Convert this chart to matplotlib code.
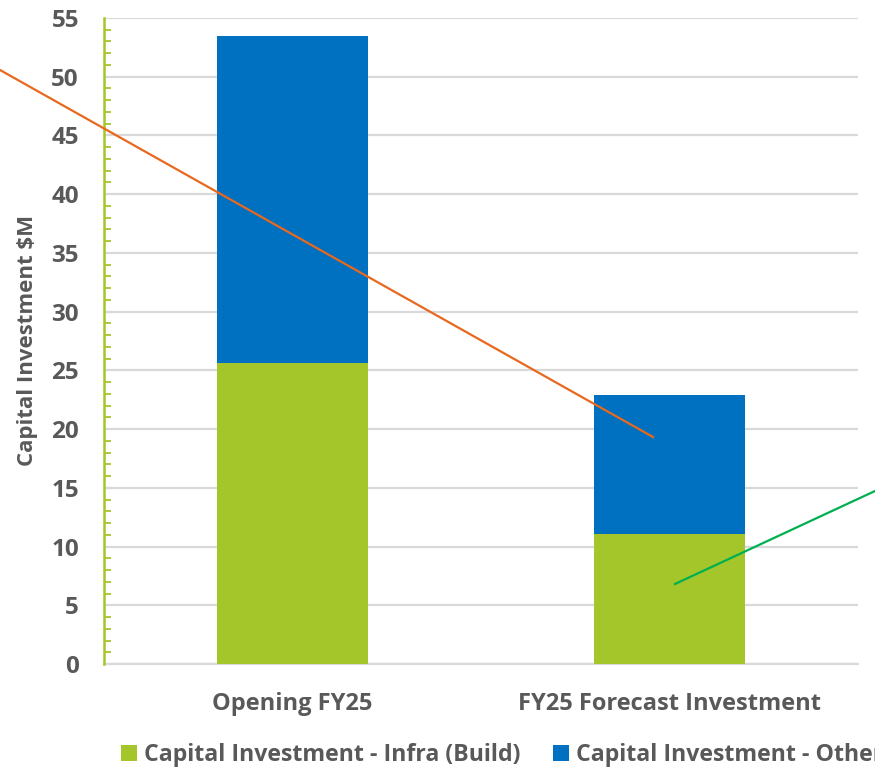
import matplotlib.pyplot as plt
from matplotlib.lines import Line2D
from matplotlib.ticker import MultipleLocator

categories = ["Opening FY25", "FY25 Forecast Investment"]
infra_build = [25.6, 11.1]
other = [27.9, 11.8]
series_names = ["Capital Investment - Infra (Build)", "Capital Investment - Other"]

GREEN = "#A5C62A"
BLUE = "#0070C0"
GREY_TXT = "#595959"
GRID = "#D9D9D9"

plt.rcParams['font.family'] = ['Open Sans', 'DejaVu Sans']
plt.rcParams['font.weight'] = 'bold'

fig = plt.figure(figsize=(8.75, 7.71), dpi=100)
ax = fig.add_axes([104 / 875, 1 - 664 / 771, 754 / 875, 646 / 771])

x = range(len(categories))
ax.bar(x, infra_build, width=0.4, color=GREEN, label=series_names[0], zorder=3)
ax.bar(x, other, width=0.4, bottom=infra_build, color=BLUE, label=series_names[1], zorder=3)

ax.set_xlim(-0.5, 1.5)
ax.set_ylim(0, 55)
ax.yaxis.set_major_locator(MultipleLocator(5))
ax.yaxis.set_minor_locator(MultipleLocator(1))
ax.grid(axis='y', which='major', color=GRID, linewidth=1.6, zorder=0)

for s in ['top', 'right']:
    ax.spines[s].set_visible(False)
ax.spines['bottom'].set_color(GRID)
ax.spines['bottom'].set_linewidth(1.6)
ax.spines['left'].set_color(GREEN)
ax.spines['left'].set_linewidth(1.8)
ax.spines['left'].set_zorder(4)

ax.tick_params(axis='y', which='major', length=0, pad=18, labelsize=17.5, labelcolor=GREY_TXT)
ax.tick_params(axis='y', which='minor', direction='in', length=5, width=1.3, color=GREEN)
ax.tick_params(axis='x', length=0, pad=20, labelsize=17, labelcolor=GREY_TXT)
ax.set_xticks(list(x))
ax.set_xticklabels(categories, fontweight='bold')
for t in ax.get_yticklabels():
    t.set_fontweight('bold')

fig.text(28 / 875, 1 - 340 / 771, "Capital Investment $M", rotation=90,
         ha='center', va='center', fontsize=16, fontweight='bold', color=GREY_TXT)

# callout lines drawn on top of the chart
fig.add_artist(Line2D([0, 653 / 875], [1 - 70 / 771, 1 - 437 / 771],
                      color="#E8681E", linewidth=1.6, transform=fig.transFigure))
fig.add_artist(Line2D([675 / 875, 1.0], [1 - 584 / 771, 1 - 491 / 771],
                      color="#00B050", linewidth=1.6, transform=fig.transFigure))

fig.legend(loc='center left', bbox_to_anchor=(100 / 875, 1 - 755 / 771), ncol=2,
           frameon=False, labelcolor=GREY_TXT, handlelength=0.7,
           handleheight=0.7, handletextpad=0.3, columnspacing=1.4,
           prop={'weight': 'bold', 'size': 16.7})

fig.savefig("out.png", dpi=100)
